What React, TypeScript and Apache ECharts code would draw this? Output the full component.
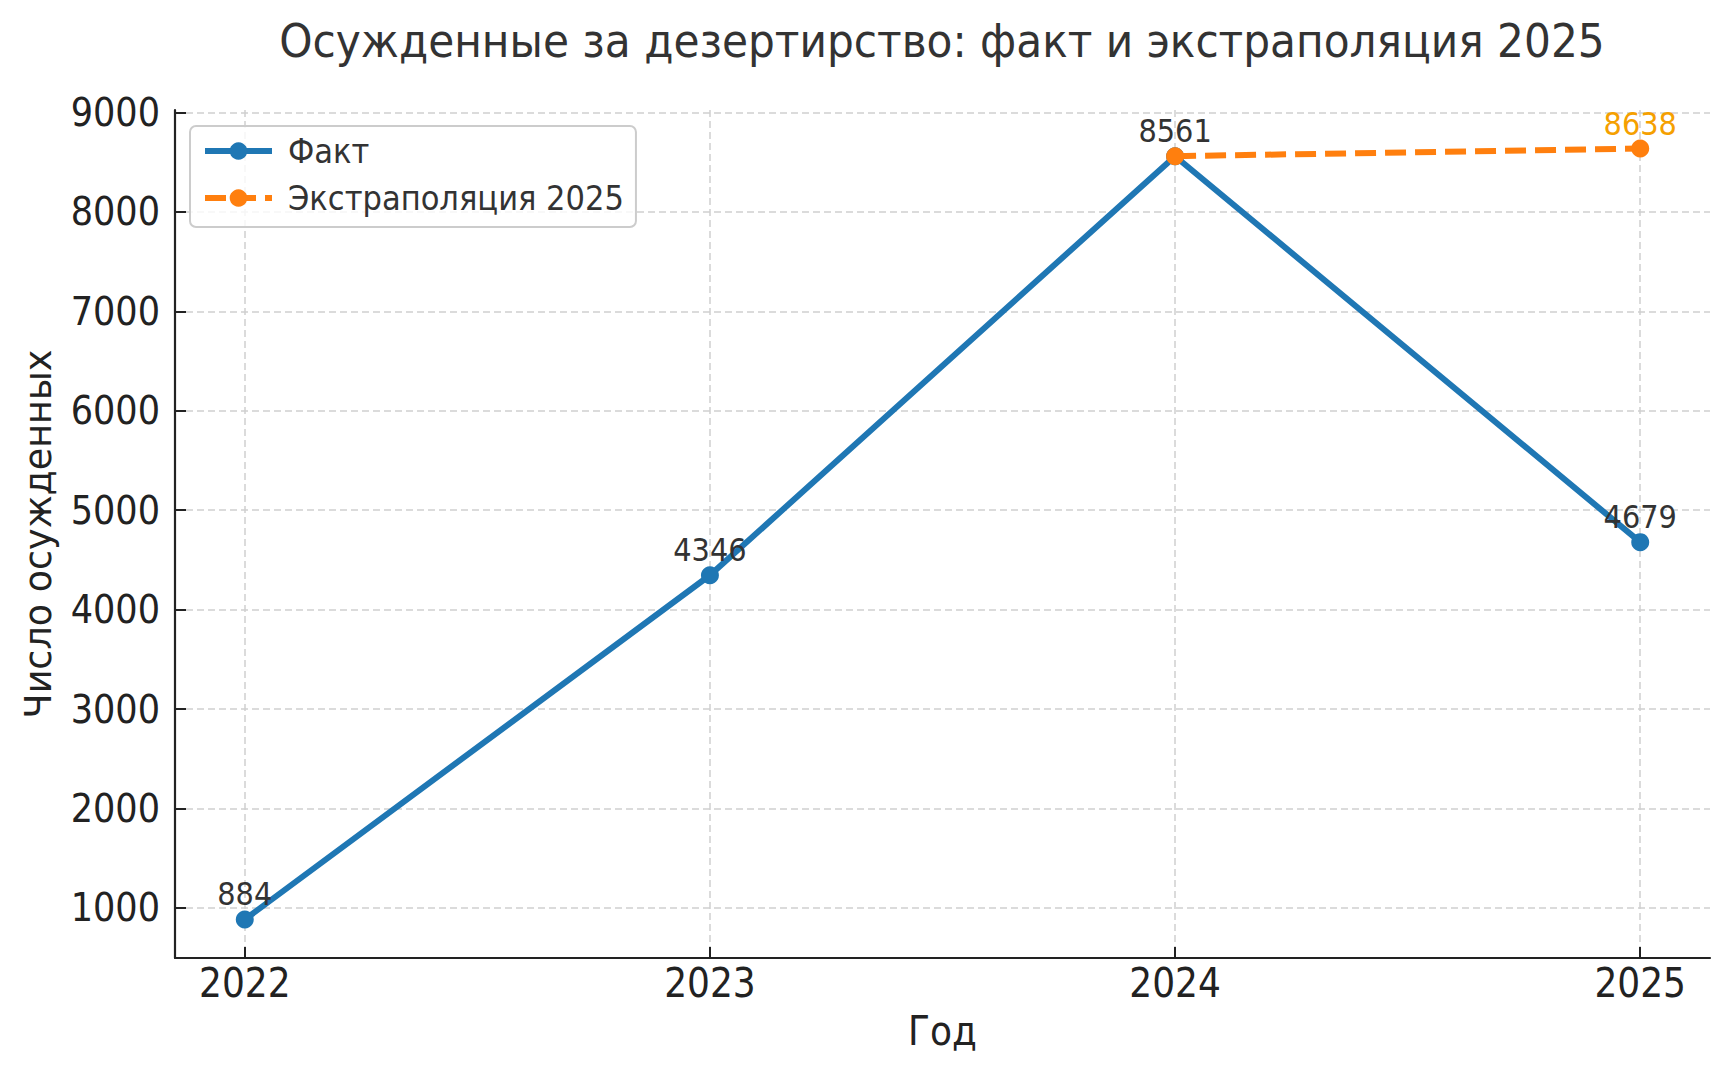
import React, { useEffect, useRef } from "react";
import * as echarts from "echarts";

const years = [2022, 2023, 2024, 2025];
const factValues = [884, 4346, 8561, 4679];
const extraYears = [2024, 2025];
const extraValues = [8561, 8638];
const yTicks = [1000, 2000, 3000, 4000, 5000, 6000, 7000, 8000, 9000];

const titleText = "Осужденные за дезертирство: факт и экстраполяция 2025";
const xName = "Год";
const yName = "Число осужденных";
const factName = "Факт";
const extraName = "Экстраполяция 2025";

const FONT = "'DejaVu Sans Condensed', 'DejaVu Sans', sans-serif";
const FONT_REG = "'DejaVu Sans', sans-serif";

export default function App() {
  const ref = useRef<HTMLDivElement>(null);
  useEffect(() => {
    document.body.style.margin = "0";
    const chart = echarts.init(ref.current!, null, { renderer: "svg" });
    const gridLine = { show: true, lineStyle: { color: "#d0d0d0", width: 1.5, type: [7, 4] } };
    const option: any = {
      animation: false,
      backgroundColor: "#ffffff",
      textStyle: { fontFamily: FONT },
      title: {
        text: titleText,
        left: 937,
        top: 12,
        textAlign: "center",
        textStyle: { fontFamily: FONT, fontSize: 47, fontWeight: "normal", color: "#333333" },
      },
      legend: {
        orient: "vertical",
        left: 190,
        top: 126,
        padding: [8, 12, 12, 12],
        itemGap: 13,
        itemWidth: 67,
        itemHeight: 22,
        backgroundColor: "rgba(255,255,255,0.8)",
        borderColor: "#cccccc",
        borderWidth: 2,
        borderRadius: 6,
        lineStyle: { width: 6 },
        textStyle: {
          fontFamily: FONT,
          fontSize: 34,
          lineHeight: 34,
          color: "#333333",
          padding: [0, 0, 0, 11],
        },
        data: [factName, extraName],
      },
      grid: { left: 175, right: 22, top: 110, bottom: 116 },
      xAxis: {
        type: "value",
        min: 2021.85,
        max: 2025.15,
        name: xName,
        nameLocation: "middle",
        nameGap: 53,
        nameTextStyle: { fontFamily: FONT, fontSize: 40, color: "#222222" },
        axisLine: { show: true, onZero: false, lineStyle: { color: "#222222", width: 2.2 } },
        axisTick: { show: true, inside: true, length: 11, customValues: years, lineStyle: { color: "#222222", width: 2 } },
        axisLabel: {
          customValues: years,
          margin: 5,
          fontFamily: FONT,
          fontSize: 40,
          color: "#222222",
          formatter: (v: number) => String(v),
        },
        splitLine: gridLine,
      },
      yAxis: {
        type: "value",
        min: 496.3,
        max: 9025.7,
        name: yName,
        nameLocation: "middle",
        nameGap: 118,
        nameTextStyle: { fontFamily: FONT_REG, fontSize: 36.5, color: "#222222" },
        axisLine: { show: true, onZero: false, lineStyle: { color: "#222222", width: 2.2 } },
        axisTick: { show: true, inside: true, length: 11, customValues: yTicks, lineStyle: { color: "#222222", width: 2 } },
        axisLabel: {
          customValues: yTicks,
          margin: 15,
          fontFamily: FONT,
          fontSize: 39,
          color: "#222222",
          formatter: (v: number) => String(v),
        },
        splitLine: gridLine,
      },
      series: [
        {
          name: factName,
          type: "line",
          data: years.map((y, i) => [y, factValues[i]]),
          symbol: "circle",
          symbolSize: 18,
          lineStyle: { color: "#1f77b4", width: 6 },
          itemStyle: { color: "#1f77b4" },
          label: {
            show: true,
            position: "top",
            distance: 0,
            fontFamily: FONT,
            fontSize: 32,
            color: "#333333",
            formatter: (p: any) => String(p.value[1]),
          },
          z: 2,
        },
        {
          name: extraName,
          type: "line",
          data: extraYears.map((y, i) => ({
            value: [y, extraValues[i]],
            label: { show: i === extraYears.length - 1 },
          })),
          symbol: "circle",
          symbolSize: 18,
          lineStyle: { color: "#ff7f0e", width: 6, type: [21, 9] },
          itemStyle: { color: "#ff7f0e" },
          label: {
            show: false,
            position: "top",
            distance: 0,
            fontFamily: FONT,
            fontSize: 32,
            color: "#f5a000",
            formatter: (p: any) => String(p.value[1]),
          },
          z: 3,
        },
      ],
    };
    chart.setOption(option);
    return () => chart.dispose();
  }, []);
  return <div ref={ref} style={{ width: 1732, height: 1074 }} />;
}
